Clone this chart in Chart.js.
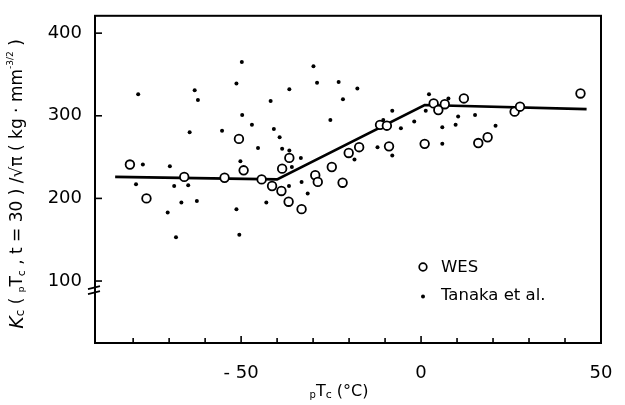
<!DOCTYPE html>
<html><head><meta charset="utf-8">
<script src="https://cdn.jsdelivr.net/npm/chart.js@4.4.0/dist/chart.umd.min.js"></script>
<style>html,body{margin:0;padding:0;background:#fff;}#wrap{width:625px;height:405px;}</style>
</head><body><div id="wrap"><canvas id="c" width="625" height="405"></canvas></div>
<script>
// ---- data ----
const wesX = [-80.9,-76.3,-65.8,-54.6,-50.6,-49.3,-44.3,-41.4,-38.8,-38.6,-36.8,-36.6,-33.2,-29.4,-28.7,-24.8,-21.8,-20.1,-17.2,-11.4,-9.5,-8.9,1.0,3.5,4.8,6.6,11.9,15.9,18.5,26.0,27.5,44.3];
const wesY = [241,200,226,225,272,234,223,215,209,236,196,249,187,228,220,238,219,255,262,289,288,263,266,315,307,314,321,267,274,305,311,327];
const tanakaX = [-78.6,-77.3,-69.8,-62.9,-62.0,-64.3,-49.8,-51.3,-49.7,-55.3,-47.0,-41.8,-40.9,-39.3,-45.3,-38.6,-50.2,-36.6,-36.6,-79.2,-68.6,-64.7,-66.6,-62.3,-70.4,-68.1,-51.3,-50.5,-43.0,-36.7,-29.9,-28.9,-22.9,-17.7,-21.7,-25.2,-33.4,-35.9,-33.2,-31.5,-18.5,-12.1,-8.0,-10.5,-8.0,-5.6,-1.9,1.3,2.2,5.9,5.9,7.6,10.3,9.6,15.0,20.7];
const tanakaY = [326,241,239,331,319,280,365,339,301,282,289,318,284,274,261,260,245,332,258,217,215,216,195,197,183,153,187,156,195,215,360,340,341,333,320,295,249,238,220,206,247,262,252,295,306,285,293,306,326,286,266,321,299,289,301,288];
const fitX = [-85,-40,1,46];
const fitY = [226,223,313,308];
const xTicks = [-80,-70,-60,-50,-40,-30,-20,-10,0,10,20,30,40,50];
const xLabelValues = [-50,0,50];
const xLabelTexts = ['- 50','0','50'];
const yTicks = [100,200,300,400];
const seriesNames = ['WES','Tanaka et al.'];
const xTitleParts = ['p','T','c',' (°C)'];
const yTitleParts = ['K','c',' ( ','p','T','c',' , t = 30 ) /√π ( kg · mm','-3/2',' )'];

const FONT = '"DejaVu Sans", sans-serif';

function drawRich(ctx, parts, x, y) {
  let w = 0;
  parts.forEach(p => { ctx.font = (p[3]?'italic ':'') + p[1] + 'px ' + FONT; w += ctx.measureText(p[0]).width; });
  let cx = x - w/2;
  ctx.textAlign = 'left'; ctx.textBaseline = 'middle';
  parts.forEach(p => {
    ctx.font = (p[3]?'italic ':'') + p[1] + 'px ' + FONT;
    ctx.fillText(p[0], cx, y + (p[2]||0));
    cx += ctx.measureText(p[0]).width;
  });
}

const framePlugin = {
  id: 'frame',
  afterDraw(chart) {
    const ctx = chart.ctx, a = chart.chartArea;
    const xs = chart.scales.x, ys = chart.scales.y;
    ctx.save();
    ctx.strokeStyle = '#000'; ctx.fillStyle = '#000';
    ctx.lineWidth = 2;
    ctx.strokeRect(a.left, a.top, a.right - a.left, a.bottom - a.top);
    ctx.lineWidth = 1.6;
    xTicks.forEach(v => {
      const px = xs.getPixelForValue(v);
      const len = (v % 50 === 0) ? 7 : 5;
      ctx.beginPath(); ctx.moveTo(px, a.bottom); ctx.lineTo(px, a.bottom - len); ctx.stroke();
    });
    yTicks.forEach(v => {
      const py = ys.getPixelForValue(v);
      ctx.beginPath(); ctx.moveTo(a.left, py); ctx.lineTo(a.left + 7, py); ctx.stroke();
    });
    // axis break mark
    const by = ys.getPixelForValue(89);
    ctx.lineWidth = 1.8;
    [-2.5, 2.5].forEach(d => {
      ctx.beginPath(); ctx.moveTo(a.left - 7, by + d + 1.5); ctx.lineTo(a.left + 5, by + d - 1.5); ctx.stroke();
    });
    // legend
    ctx.lineWidth = 1.7;
    ctx.beginPath(); ctx.arc(423, 267, 3.8, 0, Math.PI*2); ctx.stroke();
    ctx.beginPath(); ctx.arc(423, 296.5, 2, 0, Math.PI*2); ctx.fill();
    ctx.font = '16.5px ' + FONT; ctx.textAlign = 'left'; ctx.textBaseline = 'middle';
    ctx.fillText(seriesNames[0], 441, 268);
    ctx.fillText(seriesNames[1], 441, 296);
    // x title
    drawRich(ctx, [[xTitleParts[0],10,3],[xTitleParts[1],16,0],[xTitleParts[2],11,3],[xTitleParts[3],16,0]], 339, 392);
    // y title
    ctx.save();
    ctx.translate(18, 184);
    ctx.rotate(-Math.PI/2);
    drawRich(ctx, [[yTitleParts[0],19,0,true],[yTitleParts[1],12,3],[yTitleParts[2],17,0],[yTitleParts[3],9,4],[yTitleParts[4],17,0],[yTitleParts[5],11,4],[yTitleParts[6],17,0],[yTitleParts[7],9,-7],[yTitleParts[8],17,0]], 0, 0);
    ctx.restore();
    ctx.restore();
  }
};

const toPts = (xs, ys) => xs.map((x, i) => ({x, y: ys[i]}));

new Chart(document.getElementById('c'), {
  type: 'scatter',
  data: {
    datasets: [
      { type: 'line', label: 'fit', data: toPts(fitX, fitY), borderColor: '#000', borderWidth: 2.6, pointRadius: 0, fill: false, tension: 0, order: 3 },
      { label: seriesNames[0], data: toPts(wesX, wesY), pointStyle: 'circle', pointRadius: 4.3, pointBorderWidth: 1.8, pointBackgroundColor: '#fff', pointBorderColor: '#000', backgroundColor: '#fff', borderColor: '#000', order: 2 },
      { label: seriesNames[1], data: toPts(tanakaX, tanakaY), pointStyle: 'circle', pointRadius: 2, pointBorderWidth: 0, pointBackgroundColor: '#000', backgroundColor: '#000', borderColor: '#000', order: 1 }
    ]
  },
  options: {
    responsive: false, animation: false, devicePixelRatio: 1,
    layout: { padding: { top: 8, right: 24, left: 0, bottom: 0 } },
    plugins: { legend: { display: false }, tooltip: { enabled: false } },
    scales: {
      x: {
        type: 'linear', min: -90.6, max: 50,
        afterBuildTicks: s => { s.ticks = xTicks.map(v => ({ value: v })); },
        afterFit: s => { s.height = 62; },
        grid: { display: false }, border: { display: false },
        ticks: { autoSkip: false, maxRotation: 0, padding: 12, color: '#000', font: { family: FONT, size: 18 },
          callback: v => { const i = xLabelValues.indexOf(v); return i >= 0 ? xLabelTexts[i] : ''; } }
      },
      y: {
        type: 'linear', min: 25, max: 421,
        afterBuildTicks: s => { s.ticks = yTicks.map(v => ({ value: v })); },
        afterFit: s => { s.width = 95; },
        grid: { display: false }, border: { display: false },
        ticks: { padding: 5, color: '#000', font: { family: FONT, size: 18 } }
      }
    }
  },
  plugins: [framePlugin]
});
</script></body></html>
